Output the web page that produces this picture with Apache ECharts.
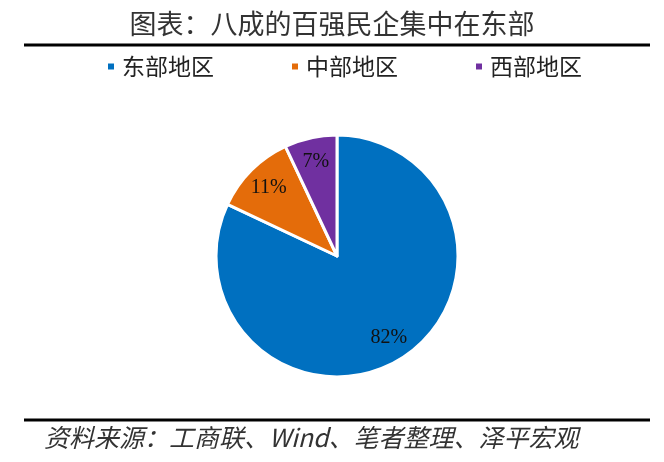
<!DOCTYPE html>
<html>
<head>
<meta charset="utf-8">
<script src="https://cdn.jsdelivr.net/npm/echarts@6/dist/echarts.min.js"></script>
<style>
html,body{margin:0;padding:0;background:#fff;}
#main{width:664px;height:462px;}
</style>
</head>
<body>
<div id="main"></div>
<script>
const titleText = '图表：八成的百强民企集中在东部';
const sourceText = '资料来源：工商联、Wind、笔者整理、泽平宏观';
const regions = ['东部地区', '中部地区', '西部地区'];
const shares = [82, 11, 7];
const colors = ['#0070C0', '#E46C0A', '#7030A0'];

const cjk = '"Noto Sans CJK SC", sans-serif';
const pieData = regions.map((name, i) => ({ name: name, value: shares[i], itemStyle: { color: colors[i] } }));
const labelData = regions.map((name, i) => ({ name: name, value: shares[i] }));

const chart = echarts.init(document.getElementById('main'), null, { renderer: 'canvas' });
chart.setOption({
  backgroundColor: '#ffffff',
  animation: false,
  title: {
    text: titleText,
    left: 'center',
    top: 5,
    textStyle: { fontFamily: cjk, fontSize: 27, fontWeight: 'normal', color: '#333' }
  },
  legend: {
    data: regions,
    left: 101,
    top: 50,
    icon: 'rect',
    itemWidth: 8,
    itemHeight: 8,
    itemGap: 76,
    selectedMode: false,
    textStyle: { fontFamily: cjk, fontSize: 23, color: '#222', padding: [0, 0, 0, 2] }
  },
  graphic: [
    { type: 'rect', shape: { x: 24, y: 43.5, width: 626, height: 3 }, style: { fill: '#000' }, silent: true },
    { type: 'rect', shape: { x: 24, y: 418.5, width: 626, height: 3 }, style: { fill: '#000' }, silent: true },
    { type: 'text', left: 44, top: 425, silent: true,
      style: { text: sourceText, font: 'italic 25px "Noto Sans CJK SC", sans-serif', fill: '#333' } }
  ],
  series: [
    {
      type: 'pie',
      center: [337, 256],
      radius: [0, 121],
      startAngle: 90,
      clockwise: true,
      silent: true,
      label: { show: false },
      labelLine: { show: false },
      itemStyle: { borderColor: '#fff', borderWidth: 3 },
      data: pieData
    },
    {
      type: 'pie',
      center: [337, 256],
      radius: [66, 121],
      startAngle: 90,
      clockwise: true,
      silent: true,
      itemStyle: { color: 'rgba(0,0,0,0)', borderWidth: 0 },
      label: {
        show: true,
        position: 'inside',
        formatter: '{c}%',
        fontFamily: '"Liberation Serif", serif',
        fontSize: 20,
        color: '#111'
      },
      labelLine: { show: false },
      data: labelData
    }
  ]
});
</script>
</body>
</html>
